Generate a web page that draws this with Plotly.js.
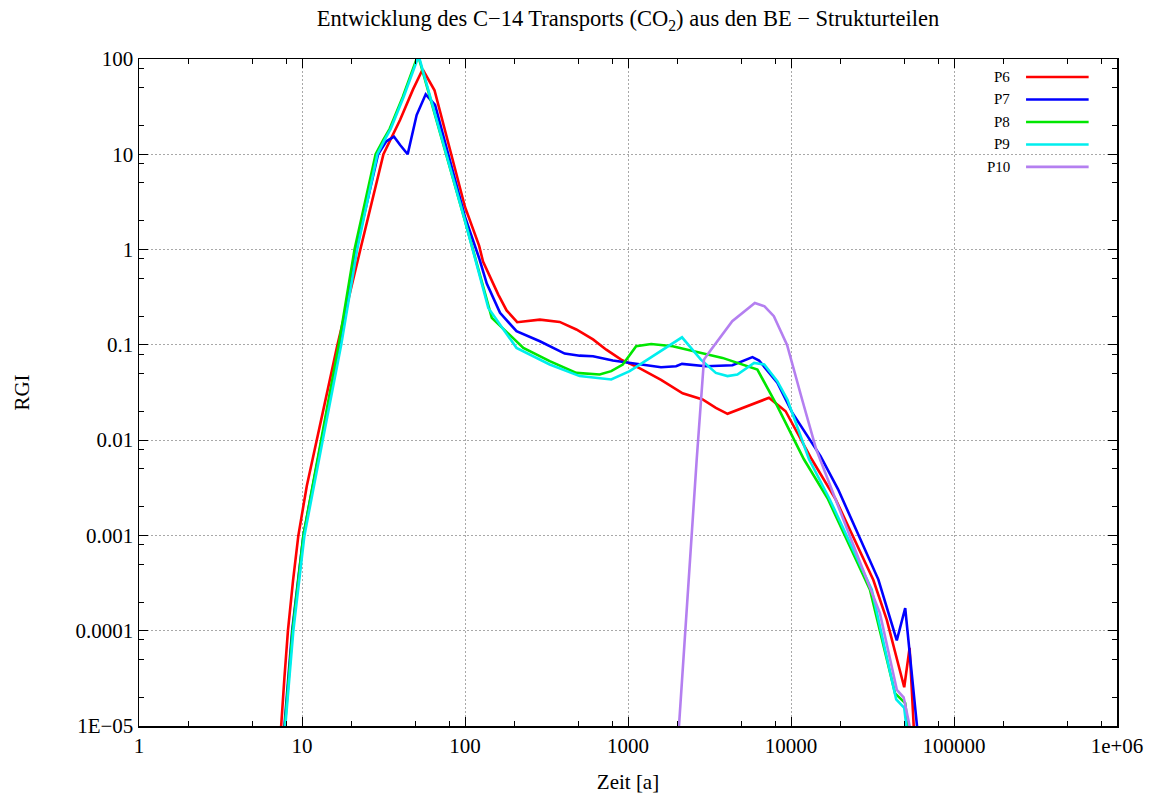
<!DOCTYPE html>
<html><head><meta charset="utf-8">
<script src="https://cdn.plot.ly/plotly-3.0.1.min.js"></script>
<style>html,body{margin:0;padding:0;background:#fff}</style>
</head><body><div id="chart" style="width:1154px;height:794px"></div>
<script>
// Series names and colours
const seriesNames = ["P6", "P7", "P8", "P9", "P10"];
const seriesColors = ["#ff0000", "#0000ff", "#00e600", "#00eeee", "#b47ff0"];

// Zeit [a] and RGI values
const p6_t = [7.2, 7.45, 7.8, 8.2, 8.8, 9.5, 10.7, 12.3, 16.5, 22.8, 31.6, 40, 48, 55, 65, 100, 122, 129, 140, 160, 180, 209, 288, 381, 482, 610, 736, 908, 1175, 1595, 2163, 2868, 3460, 4080, 7325, 9270, 13400, 18800, 32000, 38700, 49500, 53400, 56600, 57500];
const p6_v = [3e-6, 1e-5, 3.2e-5, 1e-4, 3.3e-4, 1e-3, 3.3e-3, 1e-2, 0.1, 1, 10, 23, 48, 78, 47, 2.8, 1.1, 0.75, 0.55, 0.337, 0.23, 0.173, 0.184, 0.174, 0.145, 0.114, 0.089, 0.070, 0.057, 0.043, 0.031, 0.0267, 0.0218, 0.0189, 0.0278, 0.0201, 0.0063, 0.00239, 3.4e-4, 1.3e-4, 2.55e-5, 6.6e-5, 1e-5, 4e-6];

const p7_t = [7.5, 7.8, 8.7, 10.2, 13.2, 17, 21.5, 29.3, 32.9, 36.7, 40, 44.5, 50.5, 57.4, 65.5, 100, 122.5, 136, 164, 207, 288, 409, 505, 610, 807, 1071, 1595, 1972, 2145, 3007, 4375, 5800, 6370, 8240, 10180, 15170, 19450, 34360, 44560, 50200, 59300, 60500];
const p7_v = [3e-6, 1e-5, 1e-4, 1e-3, 1e-2, 0.1, 1, 10, 13.7, 15.3, 12.5, 10, 25.8, 42.6, 32.9, 2.2, 0.8, 0.44, 0.217, 0.139, 0.109, 0.081, 0.077, 0.076, 0.0685, 0.0637, 0.0583, 0.0597, 0.0632, 0.0597, 0.0612, 0.0743, 0.0685, 0.040, 0.0194, 0.0068, 0.00305, 3.44e-4, 7.9e-5, 1.73e-4, 1e-5, 4e-6];

const p8_t = [7.6, 7.85, 8.75, 10.2, 13.1, 16.8, 21, 25.2, 28.3, 31.4, 34.5, 41.5, 51.5, 100, 122, 146, 228, 331, 482, 670, 789, 929, 1122, 1387, 1880, 2737, 3800, 6220, 8240, 12000, 16870, 30500, 43500, 50200, 52000, 52400];
const p8_v = [3e-6, 1e-5, 1e-4, 1e-3, 1e-2, 0.1, 1, 4, 10, 14, 18.5, 40, 110, 2.0, 0.6, 0.192, 0.093, 0.0674, 0.0508, 0.0489, 0.053, 0.0622, 0.0968, 0.102, 0.0968, 0.0838, 0.073, 0.0551, 0.0227, 0.0063, 0.0024, 2.7e-4, 2.2e-5, 1.74e-5, 1e-5, 4e-6];

const p9_t = [7.65, 7.9, 8.85, 10.35, 13.4, 17.4, 21.8, 25.9, 29, 32, 35, 42, 52, 100, 122, 139, 207, 331, 505, 789, 1024, 1486, 2145, 2800, 3460, 4080, 4690, 5940, 6850, 8240, 9500, 12900, 17270, 31300, 44200, 49500, 51000, 51300];
const p9_v = [3e-6, 1e-5, 1e-4, 1e-3, 1e-2, 0.1, 1, 4, 10, 14, 18.5, 40, 108, 2.0, 0.55, 0.244, 0.093, 0.0622, 0.047, 0.0433, 0.053, 0.0792, 0.120, 0.070, 0.0508, 0.047, 0.0489, 0.0647, 0.0622, 0.0416, 0.0267, 0.0063, 0.0024, 2.7e-4, 1.9e-5, 1.55e-5, 1e-5, 4e-6];

const p10_t = [2030, 2055, 2640, 2925, 3140, 4360, 6000, 6880, 7850, 9460, 11700, 14280, 18100, 35100, 44600, 49100, 53400, 54000];
const p10_v = [3e-6, 1e-5, 0.0063, 0.070, 0.083, 0.177, 0.275, 0.254, 0.2, 0.1, 0.0267, 0.008, 0.0028, 1.53e-4, 2.4e-5, 2e-5, 1e-5, 4e-6];

// Tick labels
const xTickVals = [1, 10, 100, 1000, 10000, 100000, 1000000];
const xTickText = ["1", "10", "100", "1000", "10000", "100000", "1e+06"];
const yTickVals = [1e-5, 1e-4, 1e-3, 1e-2, 0.1, 1, 10, 100];
const yTickText = ["1E\u221205", "0.0001", "0.001", "0.01", "0.1", "1", "10", "100"];
const minorFactors = [2, 5, 8];

const seriesT = [p6_t, p7_t, p8_t, p9_t, p10_t];
const seriesV = [p6_v, p7_v, p8_v, p9_v, p10_v];

const serif = "'Liberation Serif', 'Times New Roman', Times, serif";

function minorVals(decades) {
  const out = [];
  decades.forEach(d => minorFactors.forEach(f => out.push(d * f)));
  return out;
}

const traces = seriesNames.map((n, i) => ({
  type: "scatter", mode: "lines", name: n,
  x: seriesT[i], y: seriesV[i],
  line: {color: seriesColors[i], width: 2.6},
  showlegend: false
}));

// legend drawn text-before-line, like the reference
const annotations = [];
const shapes = [];
const legTop = 0.973, legStep = 0.0337;
seriesNames.forEach((n, i) => {
  const yy = legTop - i * legStep;
  annotations.push({xref: "paper", yref: "paper", x: 0.893, y: yy, xanchor: "right", yanchor: "middle",
    text: n, showarrow: false, font: {family: serif, size: 15, color: "#000"}});
  shapes.push({type: "line", xref: "paper", yref: "paper", x0: 0.907, x1: 0.971, y0: yy, y1: yy,
    line: {color: seriesColors[i], width: 2.6}});
});

const axisCommon = {
  type: "log",
  showline: true, linecolor: "#000", linewidth: 1.5, mirror: "allticks",
  ticks: "inside", ticklen: 9, tickwidth: 1, tickcolor: "#000",
  showgrid: true, gridcolor: "#a8a8a8", gridwidth: 1, griddash: "2px,2px",
  zeroline: false,
  tickfont: {family: serif, size: 21, color: "#000"},
  tickmode: "array"
};

const layout = {
  width: 1154, height: 794,
  margin: {l: 139, r: 37, t: 59, b: 68},
  paper_bgcolor: "#fff", plot_bgcolor: "#fff",
  font: {family: serif, color: "#000"},
  title: {text: "Entwicklung des C\u221214 Transports (CO<sub>2</sub>) aus den BE \u2212 Strukturteilen",
    font: {family: serif, size: 22.5, color: "#000"}, xref: "paper", x: 0.5, xanchor: "center",
    yref: "container", y: 0.977, yanchor: "middle"},
  xaxis: Object.assign({}, axisCommon, {
    range: [0, 6], tickvals: xTickVals, ticktext: xTickText,
    minor: {tickmode: "array", tickvals: minorVals([1, 10, 100, 1000, 10000, 100000]), ticks: "inside", ticklen: 5, tickcolor: "#000", showgrid: false},
    title: {text: "Zeit [a]", font: {family: serif, size: 21, color: "#000"}, standoff: 21}
  }),
  yaxis: Object.assign({}, axisCommon, {
    range: [-5, 2], tickvals: yTickVals, ticktext: yTickText,
    minor: {tickmode: "array", tickvals: minorVals([1e-5, 1e-4, 1e-3, 1e-2, 0.1, 1, 10]), ticks: "inside", ticklen: 5, tickcolor: "#000", showgrid: false},
    title: {text: "RGI", font: {family: serif, size: 21, color: "#000"}, standoff: 40}
  }),
  annotations: annotations,
  shapes: shapes,
  hovermode: false
};

Plotly.newPlot("chart", traces, layout, {staticPlot: true, displayModeBar: false});
</script>
</body></html>
